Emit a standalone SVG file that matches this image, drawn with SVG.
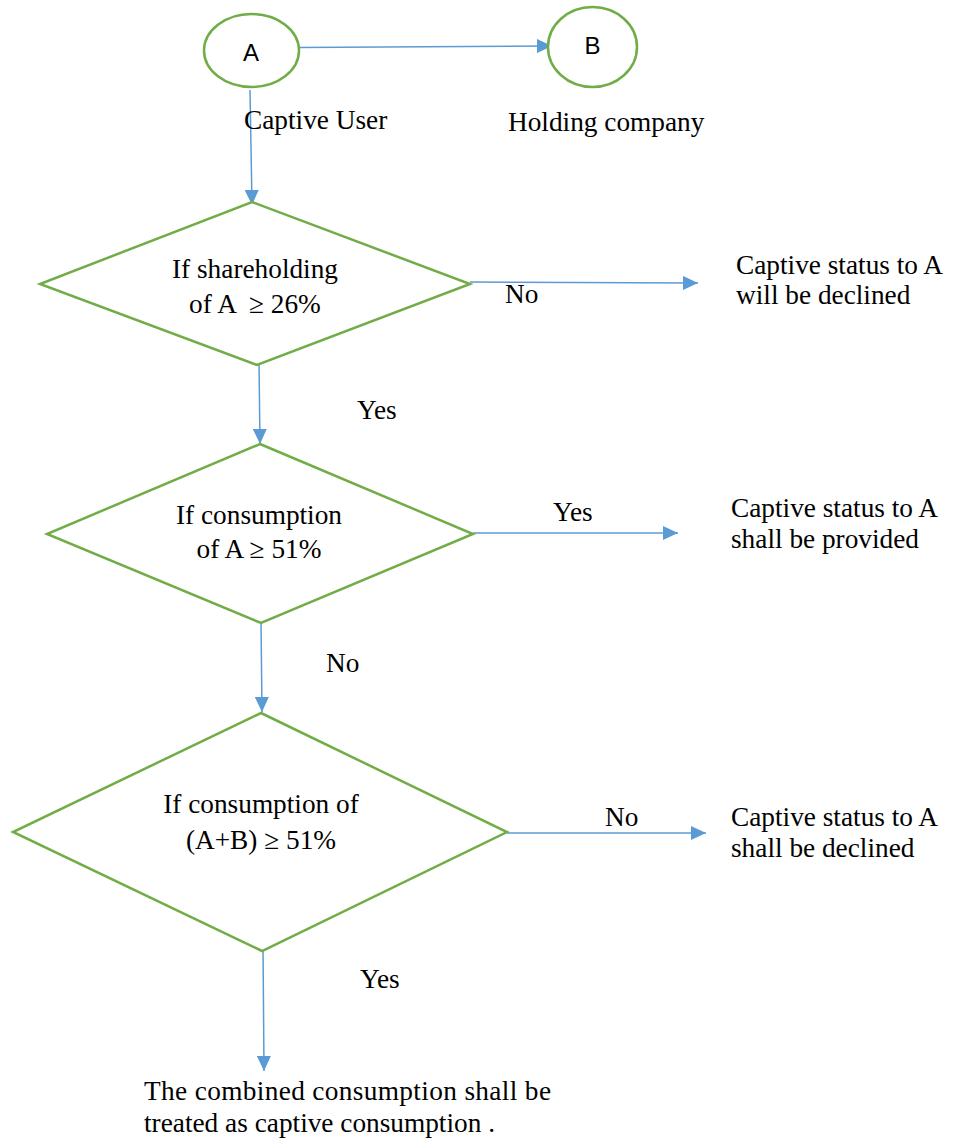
<svg xmlns="http://www.w3.org/2000/svg" width="959" height="1142" viewBox="0 0 959 1142">
<style>
.shape{fill:#fff;stroke:#70AD47;stroke-width:2.5}
.conn{stroke:#5B9BD5;stroke-width:1.5;fill:none}
.t{font-family:"Liberation Serif","Times New Roman",serif;font-size:27.3px;fill:#000}
.s{font-family:"Liberation Sans",Arial,sans-serif;font-size:24px;fill:#000}
</style>
<defs>
<marker id="arr" markerWidth="15" markerHeight="14" refX="15" refY="7" orient="auto" markerUnits="userSpaceOnUse">
<path d="M0,0 L15,7 L0,14 z" fill="#5B9BD5"/>
</marker>
</defs>
<rect width="959" height="1142" fill="#fff"/>
<g id="connectors">
<line class="conn" x1="299" y1="47.5" x2="552" y2="46" marker-end="url(#arr)"/>
<line class="conn" x1="250" y1="90" x2="252" y2="205" marker-end="url(#arr)"/>
<line class="conn" x1="470" y1="282" x2="698" y2="283" marker-end="url(#arr)"/>
<line class="conn" x1="259" y1="363" x2="260" y2="444" marker-end="url(#arr)"/>
<line class="conn" x1="473" y1="533" x2="678" y2="533" marker-end="url(#arr)"/>
<line class="conn" x1="261" y1="621" x2="262" y2="712" marker-end="url(#arr)"/>
<line class="conn" x1="507" y1="833" x2="706" y2="833" marker-end="url(#arr)"/>
<line class="conn" x1="263" y1="945" x2="264" y2="1071" marker-end="url(#arr)"/>
</g>
<g id="nodeA">
<ellipse class="shape" cx="251.5" cy="50.5" rx="47.5" ry="36.5"/>
<text class="s" x="251" y="61" text-anchor="middle">A</text>
</g>
<g id="nodeB">
<ellipse class="shape" cx="592.5" cy="47" rx="44.5" ry="40"/>
<text class="s" x="592.5" y="54" text-anchor="middle">B</text>
</g>
<g id="labelA"><text class="t" x="244" y="129">Captive User</text></g>
<g id="labelB"><text class="t" x="508" y="131">Holding company</text></g>
<g id="decision1">
<polygon class="shape" points="252,202 470,284 257,365 40,284"/>
<text class="t" text-anchor="middle"><tspan x="255" y="278">If shareholding</tspan><tspan x="255" y="313">of A &#160;≥ 26%</tspan></text>
</g>
<g id="decision2">
<polygon class="shape" points="260,444 473,534 261,623 47,534"/>
<text class="t" text-anchor="middle"><tspan x="259" y="524">If consumption</tspan><tspan x="259" y="558">of A ≥ 51%</tspan></text>
</g>
<g id="decision3">
<polygon class="shape" points="261,713 507,832 262,951 13,832"/>
<text class="t" text-anchor="middle"><tspan x="261" y="813">If consumption of</tspan><tspan x="261" y="849">(A+B) ≥ 51%</tspan></text>
</g>
<g id="out1"><text class="t"><tspan x="736" y="274">Captive status to A</tspan><tspan x="736" y="304">will be declined</tspan></text></g>
<g id="out2"><text class="t"><tspan x="731" y="517">Captive status to A</tspan><tspan x="731" y="548">shall be provided</tspan></text></g>
<g id="out3"><text class="t"><tspan x="731" y="826">Captive status to A</tspan><tspan x="731" y="857">shall be declined</tspan></text></g>
<g id="out4"><text class="t"><tspan x="144" y="1100" textLength="407" lengthAdjust="spacing">The combined consumption shall be</tspan><tspan x="144" y="1132" textLength="351" lengthAdjust="spacing">treated as captive consumption .</tspan></text></g>
<g id="edgeLabels">
<text class="t" x="505" y="303">No</text>
<text class="t" x="357" y="419">Yes</text>
<text class="t" x="553" y="521">Yes</text>
<text class="t" x="326" y="672">No</text>
<text class="t" x="605" y="826">No</text>
<text class="t" x="360" y="988">Yes</text>
</g>
</svg>
